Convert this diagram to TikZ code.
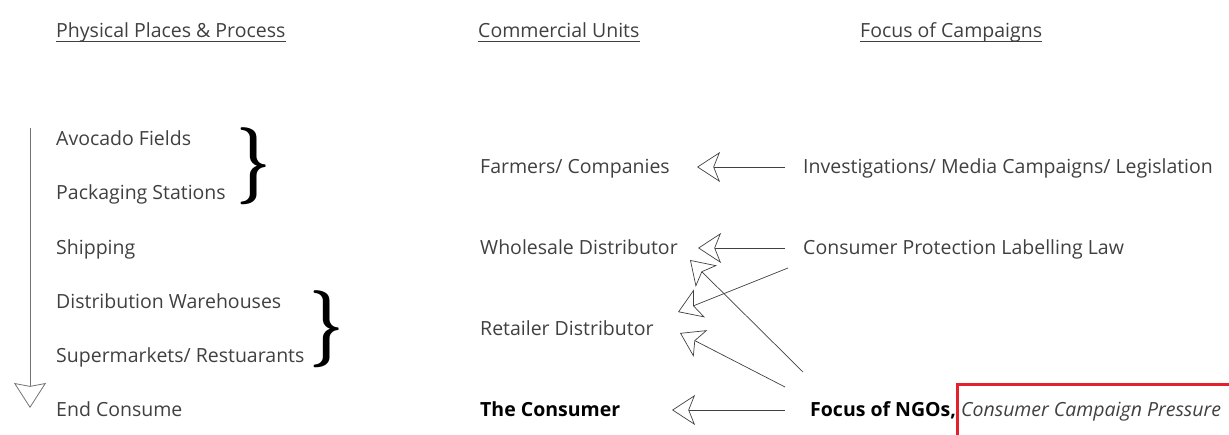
\documentclass[tikz,border=0pt]{standalone}
\usepackage{fontspec}
\setmainfont{Open Sans}
\usetikzlibrary{arrows.meta}
\definecolor{txtgray}{HTML}{404040}
\definecolor{boxred}{HTML}{E3202B}
\tikzset{
  lbl/.style={anchor=base west, inner sep=0pt, text=txtgray, font=\fontsize{19.5}{23}\selectfont},
  uline/.style={draw=txtgray, line width=0.8pt},
  push/.style={-{Stealth[open,length=23pt,width=30pt,inset=6pt]}, draw=black!75, line width=0.7pt},
  flow/.style={-{Stealth[open,length=25pt,width=32pt,inset=3pt]}, draw=black!55, line width=0.8pt},
  bracket/.style={inner sep=0pt, xscale=2.4, yscale=3.1, font=\Huge\boldmath}
}
\begin{document}
\begin{tikzpicture}[x=1pt,y=-1pt]
  \useasboundingbox (0,0) rectangle (1229,434);
  % column heads
  \node[lbl] (hplace) at (56,37) {Physical Places \& Process};
  \node[lbl] (hunit) at (478,37) {Commercial Units};
  \node[lbl] (hfocus) at (860,37) {Focus of Campaigns};
  \foreach \h in {hplace,hunit,hfocus}
    \draw[uline] ([yshift=-4]\h.base west) -- ([yshift=-4]\h.base east);
  % physical chain
  \foreach \n/\y/\t in {fields/145/Avocado Fields, pack/199/Packaging Stations, ship/254/Shipping,
      ware/308/Distribution Warehouses, shop/362/{Supermarkets/ Restuarants}, endc/416/End Consume}
    \node[lbl] (\n) at (56,\y) {\t};
  \coordinate (flowtop) at (30,128);
  \coordinate (flowend) at (30,408);
  \draw[flow] (flowtop) -- (flowend);
  \node[bracket] (brace1) at (254,166) {$\}$};
  \node[bracket] (brace2) at (327,329) {$\}$};
  % commercial units
  \node[lbl] (farmers) at (480,173) {Farmers/ Companies};
  \node[lbl] (wholesale) at (480,254) {Wholesale Distributor};
  \node[lbl] (retailer) at (480,335) {Retailer Distributor};
  \node[lbl, text=black] (consumer) at (480,416) {\bfseries The Consumer};
  % campaigns
  \node[lbl] (invest) at (803,173) {Investigations/ Media Campaigns/ Legislation};
  \node[lbl] (law) at (803,254) {Consumer Protection Labelling Law};
  \node[lbl] (ngo) at (810,416) {\textcolor{black}{\bfseries Focus of NGOs,} \itshape Consumer Campaign Pressure};
  \draw[boxred, line width=3pt] (957,440) -- (957,384) -- (1235,384);
  % pressure
  \draw[push] ([shift={(-18,-6)}]invest.base west) -- ([shift={(217,-6)}]farmers.base west);
  \draw[push] ([shift={(-18,-6)}]law.base west) -- ([shift={(218,-6)}]wholesale.base west);
  \draw[push] ([shift={(-15,14)}]law.base west) -- ([shift={(198,-23)}]retailer.base west);
  \draw[push] ([shift={(-7,-44)}]ngo.base west) -- ([shift={(210,6)}]wholesale.base west);
  \draw[push] ([shift={(-25,-29)}]ngo.base west) -- ([shift={(200,-2)}]retailer.base west);
  \draw[push] ([shift={(-25,-6)}]ngo.base west) -- ([shift={(192,-6)}]consumer.base west);
\end{tikzpicture}
\end{document}
